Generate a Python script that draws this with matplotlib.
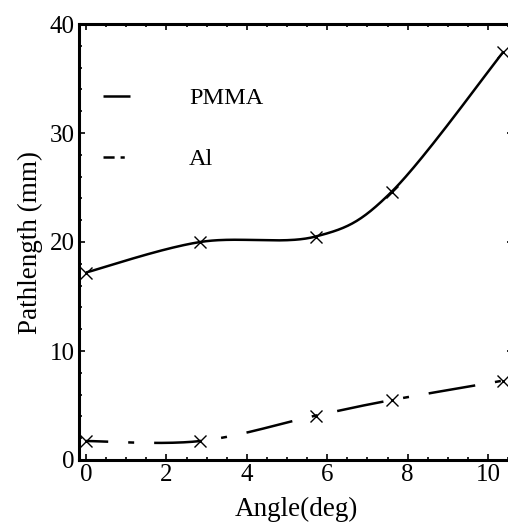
import numpy as np
import matplotlib
matplotlib.use("Agg")
import matplotlib.pyplot as plt
from matplotlib.lines import Line2D
from matplotlib.ticker import MultipleLocator

# measured pathlengths vs. incidence angle
angle = [0.0, 2.84, 5.71, 7.6, 10.37]
pmma = [17.2, 20.0, 20.5, 24.6, 37.4]
al = [1.74, 1.74, 4.07, 5.5, 7.28]

XMIN, XMAX = -0.174, 10.62
YMIN, YMAX = 0, 40


def smooth(x, y, n=60):
    # Catmull-Rom curve through the points, built in screen-like units
    sx, sy = 40.2, 10.9
    P = np.column_stack([np.asarray(x, float) * sx, np.asarray(y, float) * sy])
    P = np.vstack([P[0], P, P[-1]])
    out = []
    t = np.linspace(0, 1, n)[:, None]
    for i in range(1, len(P) - 2):
        p0, p1, p2, p3 = P[i - 1], P[i], P[i + 1], P[i + 2]
        c1 = p1 + (p2 - p0) / 6
        c2 = p2 - (p3 - p1) / 6
        seg = ((1 - t)**3 * p1 + 3 * (1 - t)**2 * t * c1
               + 3 * (1 - t) * t**2 * c2 + t**3 * p2)
        out.append(seg if i == 1 else seg[1:])
    out = np.vstack(out)
    return out[:, 0] / sx, out[:, 1] / sy


plt.rcParams['font.family'] = ['Liberation Serif', 'DejaVu Serif']
plt.rcParams['lines.scale_dashes'] = False

fig = plt.figure(figsize=(5.08, 5.27), dpi=100)
ax = fig.add_axes([79 / 508, 67 / 527, 434 / 508, 436 / 527])

lw = 1.8
xs, ys = smooth(angle, pmma)
ax.plot(xs, ys, color='black', lw=lw, solid_capstyle='butt')
xs, ys = smooth(angle, al)
ax.plot(xs, ys, color='black', lw=lw, dash_capstyle='butt',
        linestyle=(18, (34, 14.4, 4.3, 14.4)))

ax.plot(angle, pmma, ls='none', marker='x', ms=9, mew=1.0, color='black')
ax.plot(angle, al, ls='none', marker='x', ms=9, mew=1.0, color='black')

ax.set_xlim(XMIN, XMAX)
ax.set_ylim(YMIN, YMAX)
ax.xaxis.set_major_locator(MultipleLocator(2))
ax.xaxis.set_minor_locator(MultipleLocator(0.5))
ax.yaxis.set_major_locator(MultipleLocator(10))
ax.yaxis.set_minor_locator(MultipleLocator(2))
ax.tick_params(which='both', direction='in', top=True, right=True,
               labelsize=18, width=1.2)
ax.tick_params(which='major', length=4.5, pad=3)
ax.tick_params(which='minor', length=2.5)
for s in ax.spines.values():
    s.set_linewidth(2.2)

ax.set_xlabel('Angle(deg)', fontsize=19.5, labelpad=7.5)
ax.set_ylabel('Pathlength (mm)', fontsize=19.5, labelpad=5)

h_pmma = Line2D([], [], color='black', lw=lw, solid_capstyle='butt')
h_al = Line2D([], [], color='black', lw=lw, dash_capstyle='butt',
              linestyle=(0, (8, 4.3, 3, 4.3)))
ax.legend([h_pmma, h_al], ['PMMA', 'Al'], loc='upper left',
          bbox_to_anchor=(0.055, 0.855), frameon=False, fontsize=17.5,
          handlelength=1.1, handletextpad=2.45, labelspacing=1.6,
          borderpad=0, borderaxespad=0)

fig.savefig('out.png', dpi=100)
